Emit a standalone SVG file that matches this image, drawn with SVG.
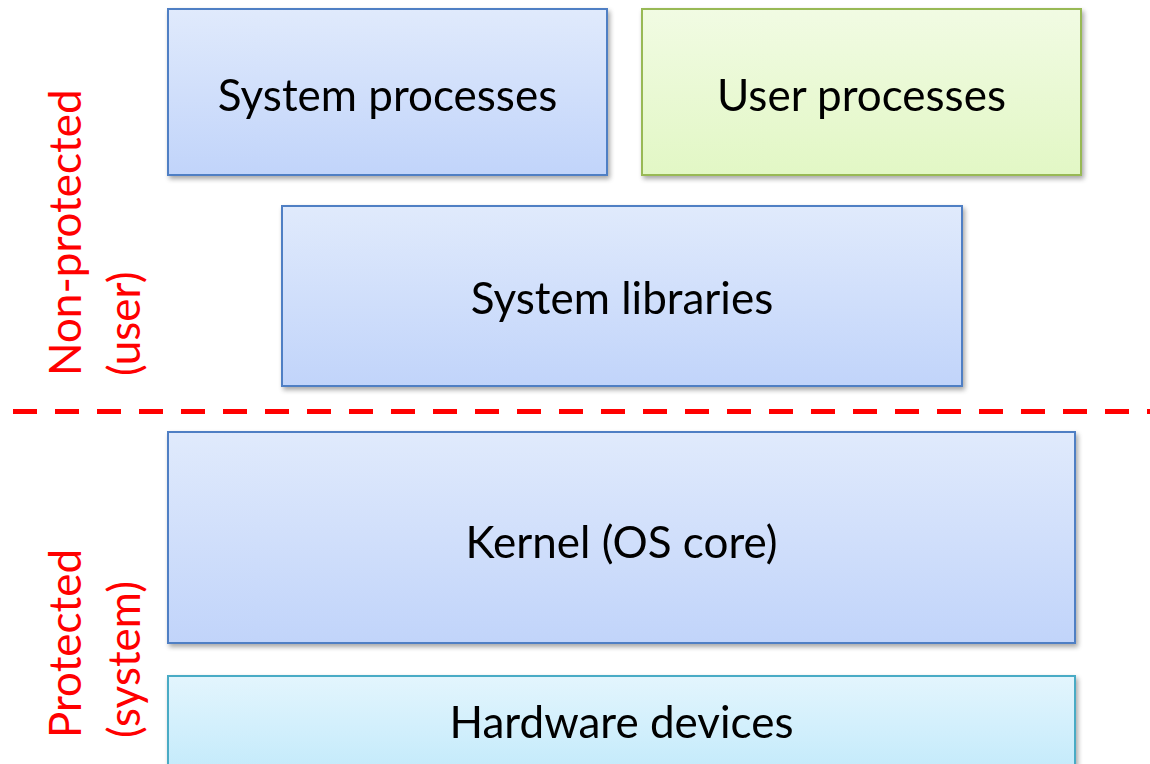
<svg xmlns="http://www.w3.org/2000/svg" width="1150" height="764" viewBox="0 0 1150 764">
  <defs>
    <linearGradient id="gBlue" x1="0" y1="0" x2="0" y2="1">
      <stop offset="0" stop-color="#e0eafc"/>
      <stop offset="1" stop-color="#c1d4fa"/>
    </linearGradient>
    <linearGradient id="gGreen" x1="0" y1="0" x2="0" y2="1">
      <stop offset="0" stop-color="#f1fbe3"/>
      <stop offset="1" stop-color="#e2f7c5"/>
    </linearGradient>
    <linearGradient id="gCyan" x1="0" y1="0" x2="0" y2="1">
      <stop offset="0" stop-color="#e3f5fd"/>
      <stop offset="1" stop-color="#c2eafb"/>
    </linearGradient>
    <filter id="shadow" x="-5%" y="-10%" width="110%" height="125%">
      <feGaussianBlur in="SourceAlpha" stdDeviation="2.5"/>
      <feOffset dx="1.5" dy="3" result="b"/>
      <feComponentTransfer><feFuncA type="linear" slope="0.35"/></feComponentTransfer>
      <feMerge><feMergeNode/><feMergeNode in="SourceGraphic"/></feMerge>
    </filter>
  </defs>
  <style>
    .blue { fill: url(#gBlue); stroke: #4f7fc4; stroke-width: 2; }
    .green { fill: url(#gGreen); stroke: #98b954; stroke-width: 2; }
    .cyan { fill: url(#gCyan); stroke: #4aabc5; stroke-width: 2; }
    .lbl { font-family: Lato, "Open Sans", "Liberation Sans", sans-serif; font-size: 44px; fill: #000; text-anchor: middle; }
    .side { font-family: Lato, "Open Sans", "Liberation Sans", sans-serif; font-size: 44px; fill: #ff0000; text-anchor: start; }
  </style>
  <rect width="1150" height="764" fill="#ffffff"/>

  <g id="system-processes" filter="url(#shadow)">
    <rect class="blue" x="168" y="9" width="439" height="166"/>
    <text class="lbl" x="387.5" y="111">System processes</text>
  </g>
  <g id="user-processes" filter="url(#shadow)">
    <rect class="green" x="642" y="9" width="439" height="166"/>
    <text class="lbl" x="861.5" y="111">User processes</text>
  </g>
  <g id="system-libraries" filter="url(#shadow)">
    <rect class="blue" x="282" y="206" width="680" height="180"/>
    <text class="lbl" x="622" y="314">System libraries</text>
  </g>
  <g id="kernel" filter="url(#shadow)">
    <rect class="blue" x="168" y="432" width="907" height="211"/>
    <text class="lbl" x="621.5" y="558">Kernel (OS core)</text>
  </g>
  <g id="hardware" filter="url(#shadow)">
    <rect class="cyan" x="168" y="676" width="907" height="100"/>
    <text class="lbl" x="621.5" y="738">Hardware devices</text>
  </g>

  <g id="connectors">
    <line x1="13" y1="411.5" x2="1150" y2="411.5" stroke="#ff0000" stroke-width="5" stroke-dasharray="24 18"/>
  </g>

  <g id="side-labels">
    <text class="side" transform="translate(81,376) rotate(-90)">Non-protected</text>
    <text class="side" transform="translate(140,376) rotate(-90)">(user)</text>
    <text class="side" transform="translate(81,738) rotate(-90)">Protected</text>
    <text class="side" transform="translate(140,738) rotate(-90)">(system)</text>
  </g>
</svg>
